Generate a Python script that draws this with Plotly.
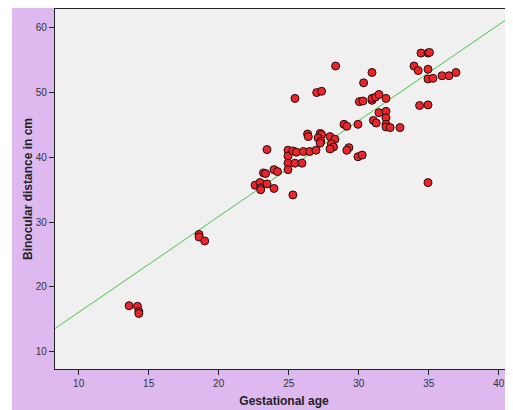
import numpy as np
import plotly.graph_objects as go

gest_age = [13.6, 14.2, 14.3, 14.3, 18.6, 18.6, 19.0,
            22.6, 22.95, 23.0, 23.0, 23.45, 23.2, 23.35, 23.45, 23.95, 24.2, 23.95,
            24.95, 24.95, 24.95, 24.95, 25.3, 25.45, 25.3, 25.45, 25.55, 25.95, 26.05,
            26.5, 26.95, 26.35, 26.4, 27.0, 27.35, 27.25, 27.35, 27.1, 27.3, 27.25,
            27.95, 28.3, 28.05, 28.2, 27.95, 28.35, 28.95, 29.15, 29.3, 29.15,
            29.95, 30.25, 29.95, 30.05, 30.3, 30.35, 30.95, 30.95, 30.95, 31.2,
            31.45, 31.95, 31.45, 31.95, 31.95, 31.05, 31.25, 31.95, 31.95, 32.25,
            32.95, 33.95, 34.25, 34.95, 34.45, 34.95, 35.05, 34.95, 35.3, 35.95,
            36.45, 36.95, 34.35, 34.95, 34.95]
binoc_dist = [17.1, 17.0, 16.2, 15.9, 28.1, 27.7, 27.1,
              35.7, 36.1, 35.3, 35.0, 35.9, 37.6, 37.5, 41.2, 38.1, 37.8, 35.2,
              41.1, 40.2, 39.1, 38.1, 41.0, 39.1, 34.2, 49.1, 40.8, 39.1, 40.9,
              40.9, 41.1, 43.6, 43.2, 50.0, 50.2, 43.7, 43.5, 43.0, 42.5, 42.2,
              43.2, 42.8, 42.1, 41.6, 41.3, 54.1, 45.1, 44.8, 41.5, 41.1,
              40.1, 40.35, 45.1, 48.6, 48.7, 51.5, 53.1, 48.8, 49.1, 49.3,
              49.7, 49.1, 46.9, 47.1, 46.1, 45.7, 45.3, 45.1, 44.7, 44.6,
              44.6, 54.1, 53.4, 53.6, 56.1, 56.1, 56.2, 52.1, 52.2, 52.6,
              52.6, 53.1, 48.0, 48.1, 36.1]

x_ticks = [10, 15, 20, 25, 30, 35, 40]
y_ticks = [10, 20, 30, 40, 50, 60]
x_range = [8.31, 41.02]
y_range = [7.33, 62.9]

slope, intercept = np.polyfit(gest_age, binoc_dist, 1)
fit_x = np.array(x_range)
fit_y = intercept + slope * fit_x

fig = go.Figure()
fig.add_trace(go.Scatter(x=fit_x, y=fit_y, mode="lines",
                         line=dict(color="#4cc24c", width=1), hoverinfo="skip",
                         showlegend=False))
fig.add_trace(go.Scatter(x=gest_age, y=binoc_dist, mode="markers",
                         marker=dict(size=8, color="#e8262c",
                                     line=dict(color="#2a0a0a", width=1)),
                         showlegend=False))

# page body has an 8px margin; figure origin lands at (8, 8)
W, H = 505, 402
L, R, T, B = 47, 0, 1, 41
pw = W - L - R
left_white = (4 - L) / pw

fig.update_layout(
    width=W, height=H,
    margin=dict(l=L, r=R, t=T, b=B),
    paper_bgcolor="#ddb9f0",
    plot_bgcolor="#f0f0f0",
    font=dict(family="Liberation Sans, Arial, sans-serif", color="#222"),
    shapes=[
        dict(type="rect", xref="paper", yref="paper", x0=-0.5, x1=left_white,
             y0=-0.5, y1=1.5, fillcolor="white", line=dict(width=0), layer="below"),
    ],
    xaxis=dict(range=x_range, tickvals=x_ticks, showgrid=False, zeroline=False,
               showline=True, linecolor="#222", linewidth=1.2, mirror=True,
               ticks="outside", ticklen=5, tickcolor="#222",
               tickfont=dict(size=10, color="#333"),
               title=dict(text="<b>Gestational age</b>", font=dict(size=12, color="#222"),
                          standoff=8)),
    yaxis=dict(range=y_range, tickvals=y_ticks, showgrid=False, zeroline=False,
               showline=True, linecolor="#222", linewidth=1.2,
               ticks="outside", ticklen=5, tickcolor="#222",
               tickfont=dict(size=10, color="#333"),
               title=dict(text="<b>Binocular distance in cm</b>",
                          font=dict(size=12, color="#222"), standoff=0)),
)

fig.write_html("out.html")
